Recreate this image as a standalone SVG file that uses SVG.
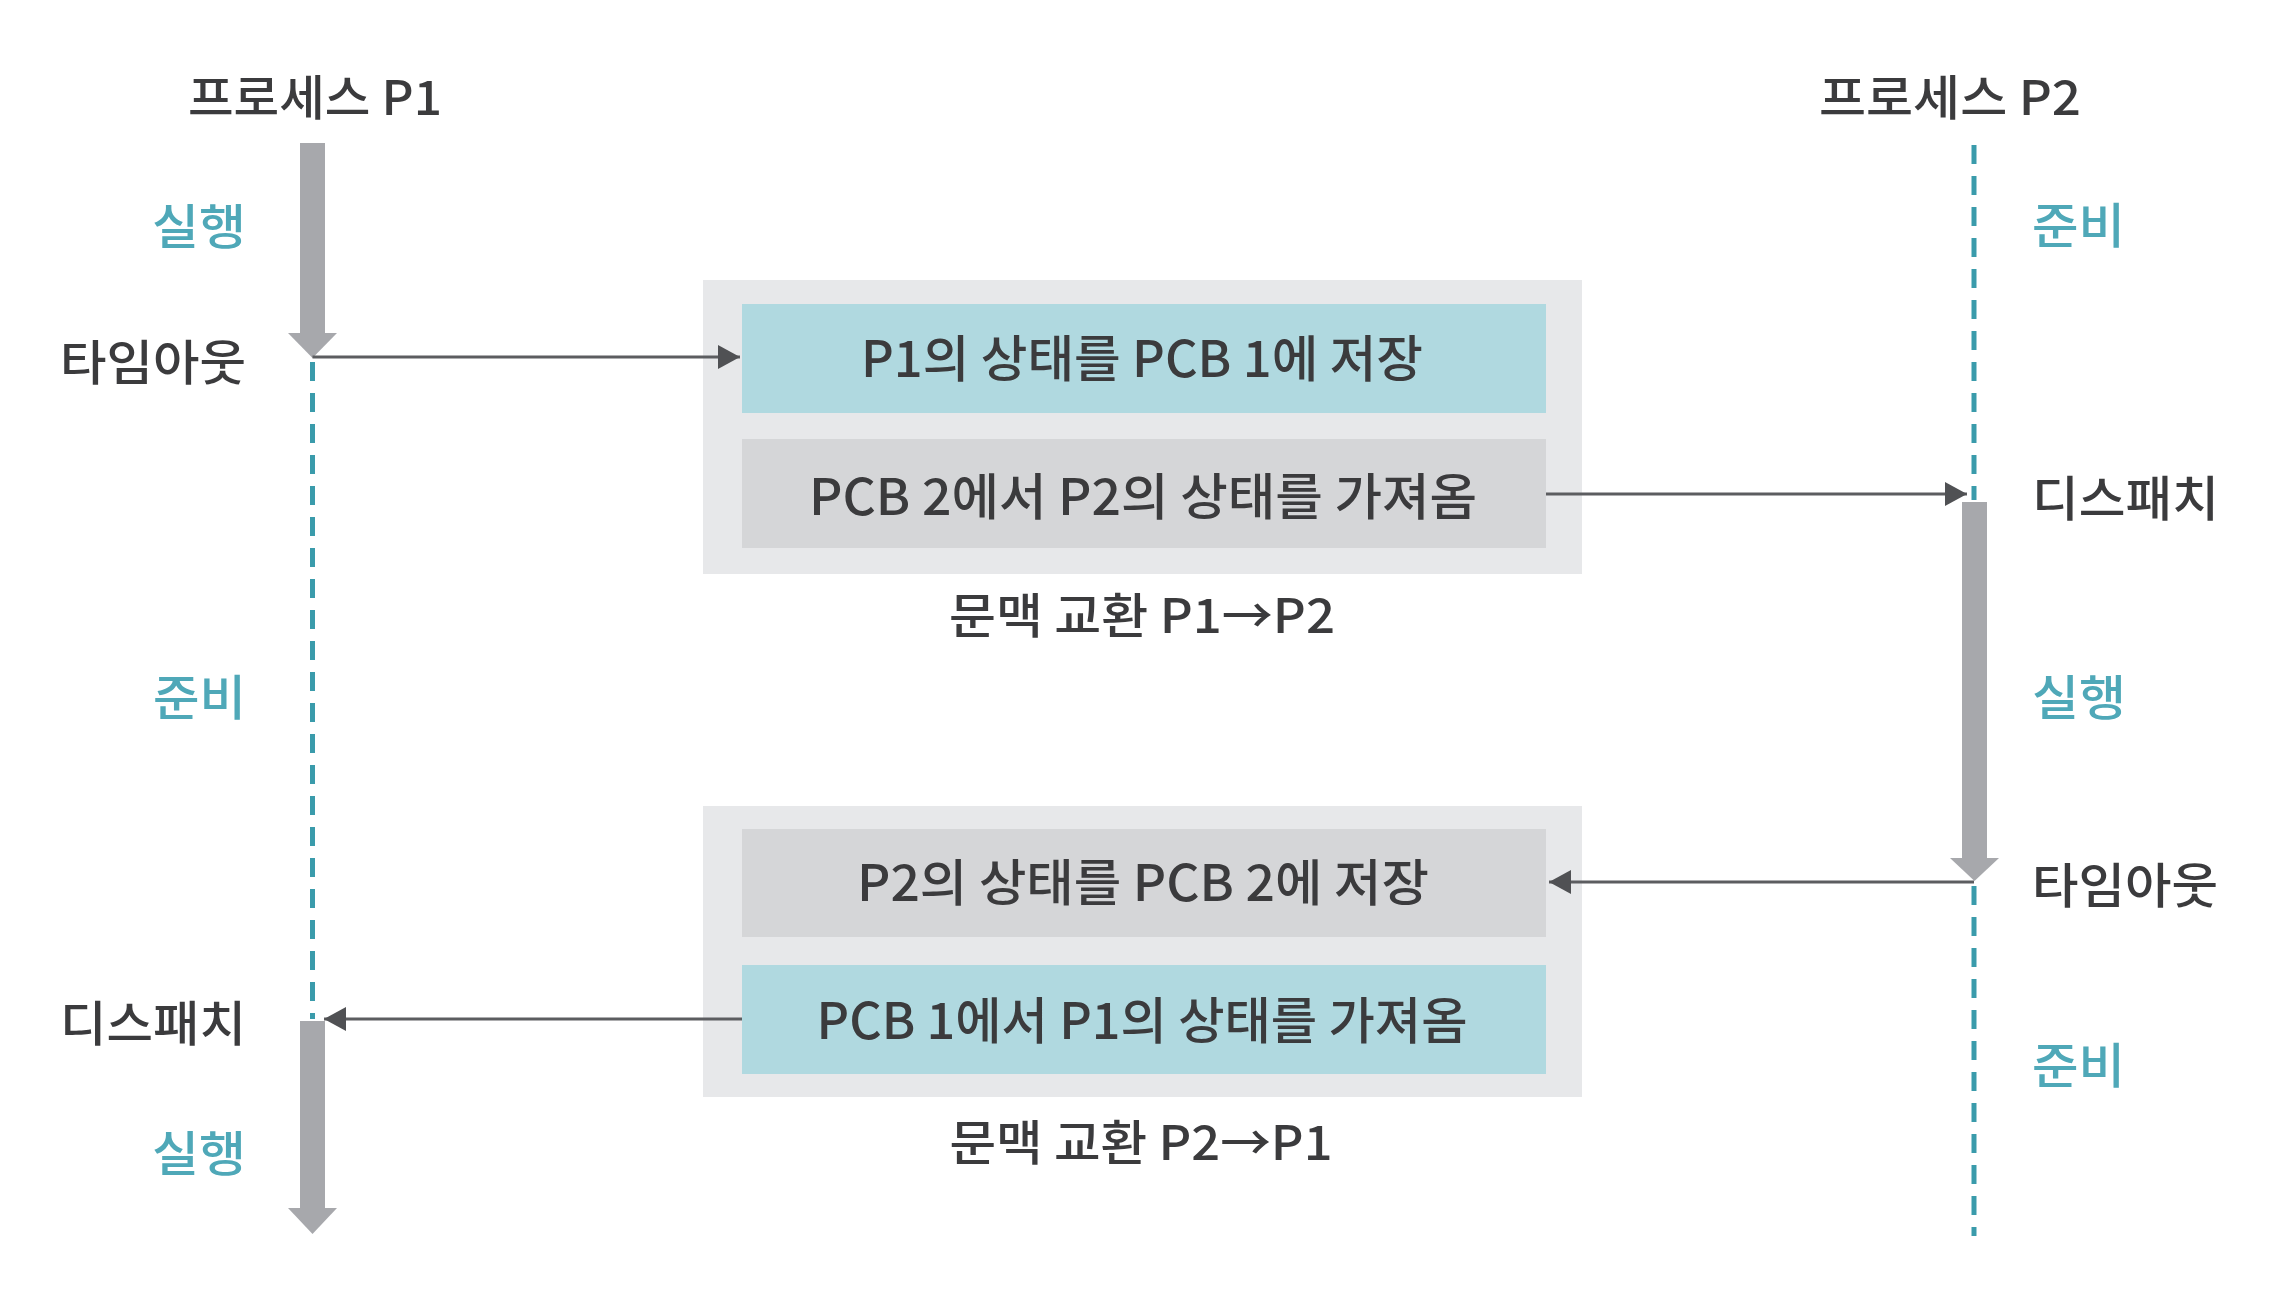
<svg xmlns="http://www.w3.org/2000/svg" width="2272" height="1290" viewBox="0 0 2272 1290">
  <style>
    .t { font-family: "Noto Sans CJK KR", "Noto Sans", sans-serif; fill: #3b3b3d; font-weight: 500; }
    .lbl { font-size: 48px; }
    .teal { fill: #4fa8b8; }
    .box { font-size: 50px; }
    .cap { font-size: 48px; }
    .dash { stroke: #3a9bab; stroke-width: 5; stroke-dasharray: 19 12; fill: none; }
    .thin { stroke: #5c5d60; stroke-width: 3; fill: none; }
    .thick { fill: #a7a8ac; }
    .outer { fill: #e7e8ea; }
    .blue { fill: #b0d9e0; }
    .grey { fill: #d5d6d8; }
  </style>
  <defs>
    <marker id="ah" markerUnits="userSpaceOnUse" markerWidth="26" markerHeight="26" viewBox="0 0 26 26" refX="24" refY="13" orient="auto">
      <path d="M2,1 L24,13 L2,25 Z" fill="#505154"/>
    </marker>
  </defs>
  <rect width="2272" height="1290" fill="#ffffff"/>

  <g id="process-p1">
    <text class="t lbl" x="315" y="115" text-anchor="middle" textLength="254" lengthAdjust="spacingAndGlyphs">프로세스 P1</text>
  </g>
  <g id="process-p2">
    <text class="t lbl" x="1950" y="115" text-anchor="middle" textLength="262" lengthAdjust="spacingAndGlyphs">프로세스 P2</text>
  </g>

  <g id="p1-states">
    <text class="t lbl teal" x="246" y="244" text-anchor="end" textLength="94" lengthAdjust="spacingAndGlyphs">실행</text>
    <text class="t lbl" x="246" y="380" text-anchor="end" textLength="186" lengthAdjust="spacingAndGlyphs">타임아웃</text>
    <text class="t lbl teal" x="246" y="715" text-anchor="end" textLength="93" lengthAdjust="spacingAndGlyphs">준비</text>
    <text class="t lbl" x="246" y="1041" text-anchor="end" textLength="186" lengthAdjust="spacingAndGlyphs">디스패치</text>
    <text class="t lbl teal" x="246" y="1171" text-anchor="end" textLength="94" lengthAdjust="spacingAndGlyphs">실행</text>
  </g>
  <g id="p2-states">
    <text class="t lbl teal" x="2032" y="243" textLength="93" lengthAdjust="spacingAndGlyphs">준비</text>
    <text class="t lbl" x="2032" y="516" textLength="187" lengthAdjust="spacingAndGlyphs">디스패치</text>
    <text class="t lbl teal" x="2032" y="715" textLength="94" lengthAdjust="spacingAndGlyphs">실행</text>
    <text class="t lbl" x="2032" y="903" textLength="186" lengthAdjust="spacingAndGlyphs">타임아웃</text>
    <text class="t lbl teal" x="2032" y="1083" textLength="93" lengthAdjust="spacingAndGlyphs">준비</text>
  </g>

  <g id="switch-p1-p2">
    <rect class="outer" x="703" y="280" width="879" height="294"/>
    <g id="save-p1">
      <rect class="blue" x="742" y="304" width="804" height="109"/>
      <text class="t box" x="1142" y="377" text-anchor="middle" textLength="562" lengthAdjust="spacingAndGlyphs">P1의 상태를 PCB 1에 저장</text>
    </g>
    <g id="load-p2">
      <rect class="grey" x="742" y="439" width="804" height="109"/>
      <text class="t box" x="1143" y="515" text-anchor="middle" textLength="668" lengthAdjust="spacingAndGlyphs">PCB 2에서 P2의 상태를 가져옴</text>
    </g>
    <text class="t cap" x="1142" y="633" text-anchor="middle" textLength="386" lengthAdjust="spacingAndGlyphs">문맥 교환 P1→P2</text>
  </g>

  <g id="switch-p2-p1">
    <rect class="outer" x="703" y="806" width="879" height="291"/>
    <g id="save-p2">
      <rect class="grey" x="742" y="829" width="804" height="108"/>
      <text class="t box" x="1143" y="901" text-anchor="middle" textLength="572" lengthAdjust="spacingAndGlyphs">P2의 상태를 PCB 2에 저장</text>
    </g>
    <g id="load-p1">
      <rect class="blue" x="742" y="965" width="804" height="109"/>
      <text class="t box" x="1142" y="1039" text-anchor="middle" textLength="651" lengthAdjust="spacingAndGlyphs">PCB 1에서 P1의 상태를 가져옴</text>
    </g>
    <text class="t cap" x="1141" y="1160" text-anchor="middle" textLength="383" lengthAdjust="spacingAndGlyphs">문맥 교환 P2→P1</text>
  </g>

  <g id="connectors">
    <line class="dash" x1="312.5" y1="362" x2="312.5" y2="1019"/>
    <line class="dash" x1="1974" y1="145" x2="1974" y2="500"/>
    <line class="dash" x1="1974" y1="886" x2="1974" y2="1236"/>
    <rect class="thick" x="300" y="143" width="25" height="191"/>
    <polygon class="thick" points="288,333 337,333 312.5,358"/>
    <rect class="thick" x="300" y="1021" width="25" height="188"/>
    <polygon class="thick" points="288,1208 337,1208 312.5,1234"/>
    <rect class="thick" x="1962" y="502" width="25" height="357"/>
    <polygon class="thick" points="1950,858 1999,858 1974.5,881"/>
    <line class="thin" x1="312.5" y1="357" x2="740" y2="357" marker-end="url(#ah)"/>
    <line class="thin" x1="1546" y1="494" x2="1967" y2="494" marker-end="url(#ah)"/>
    <line class="thin" x1="1974" y1="882" x2="1549" y2="882" marker-end="url(#ah)"/>
    <line class="thin" x1="742" y1="1019" x2="324" y2="1019" marker-end="url(#ah)"/>
  </g>
</svg>
